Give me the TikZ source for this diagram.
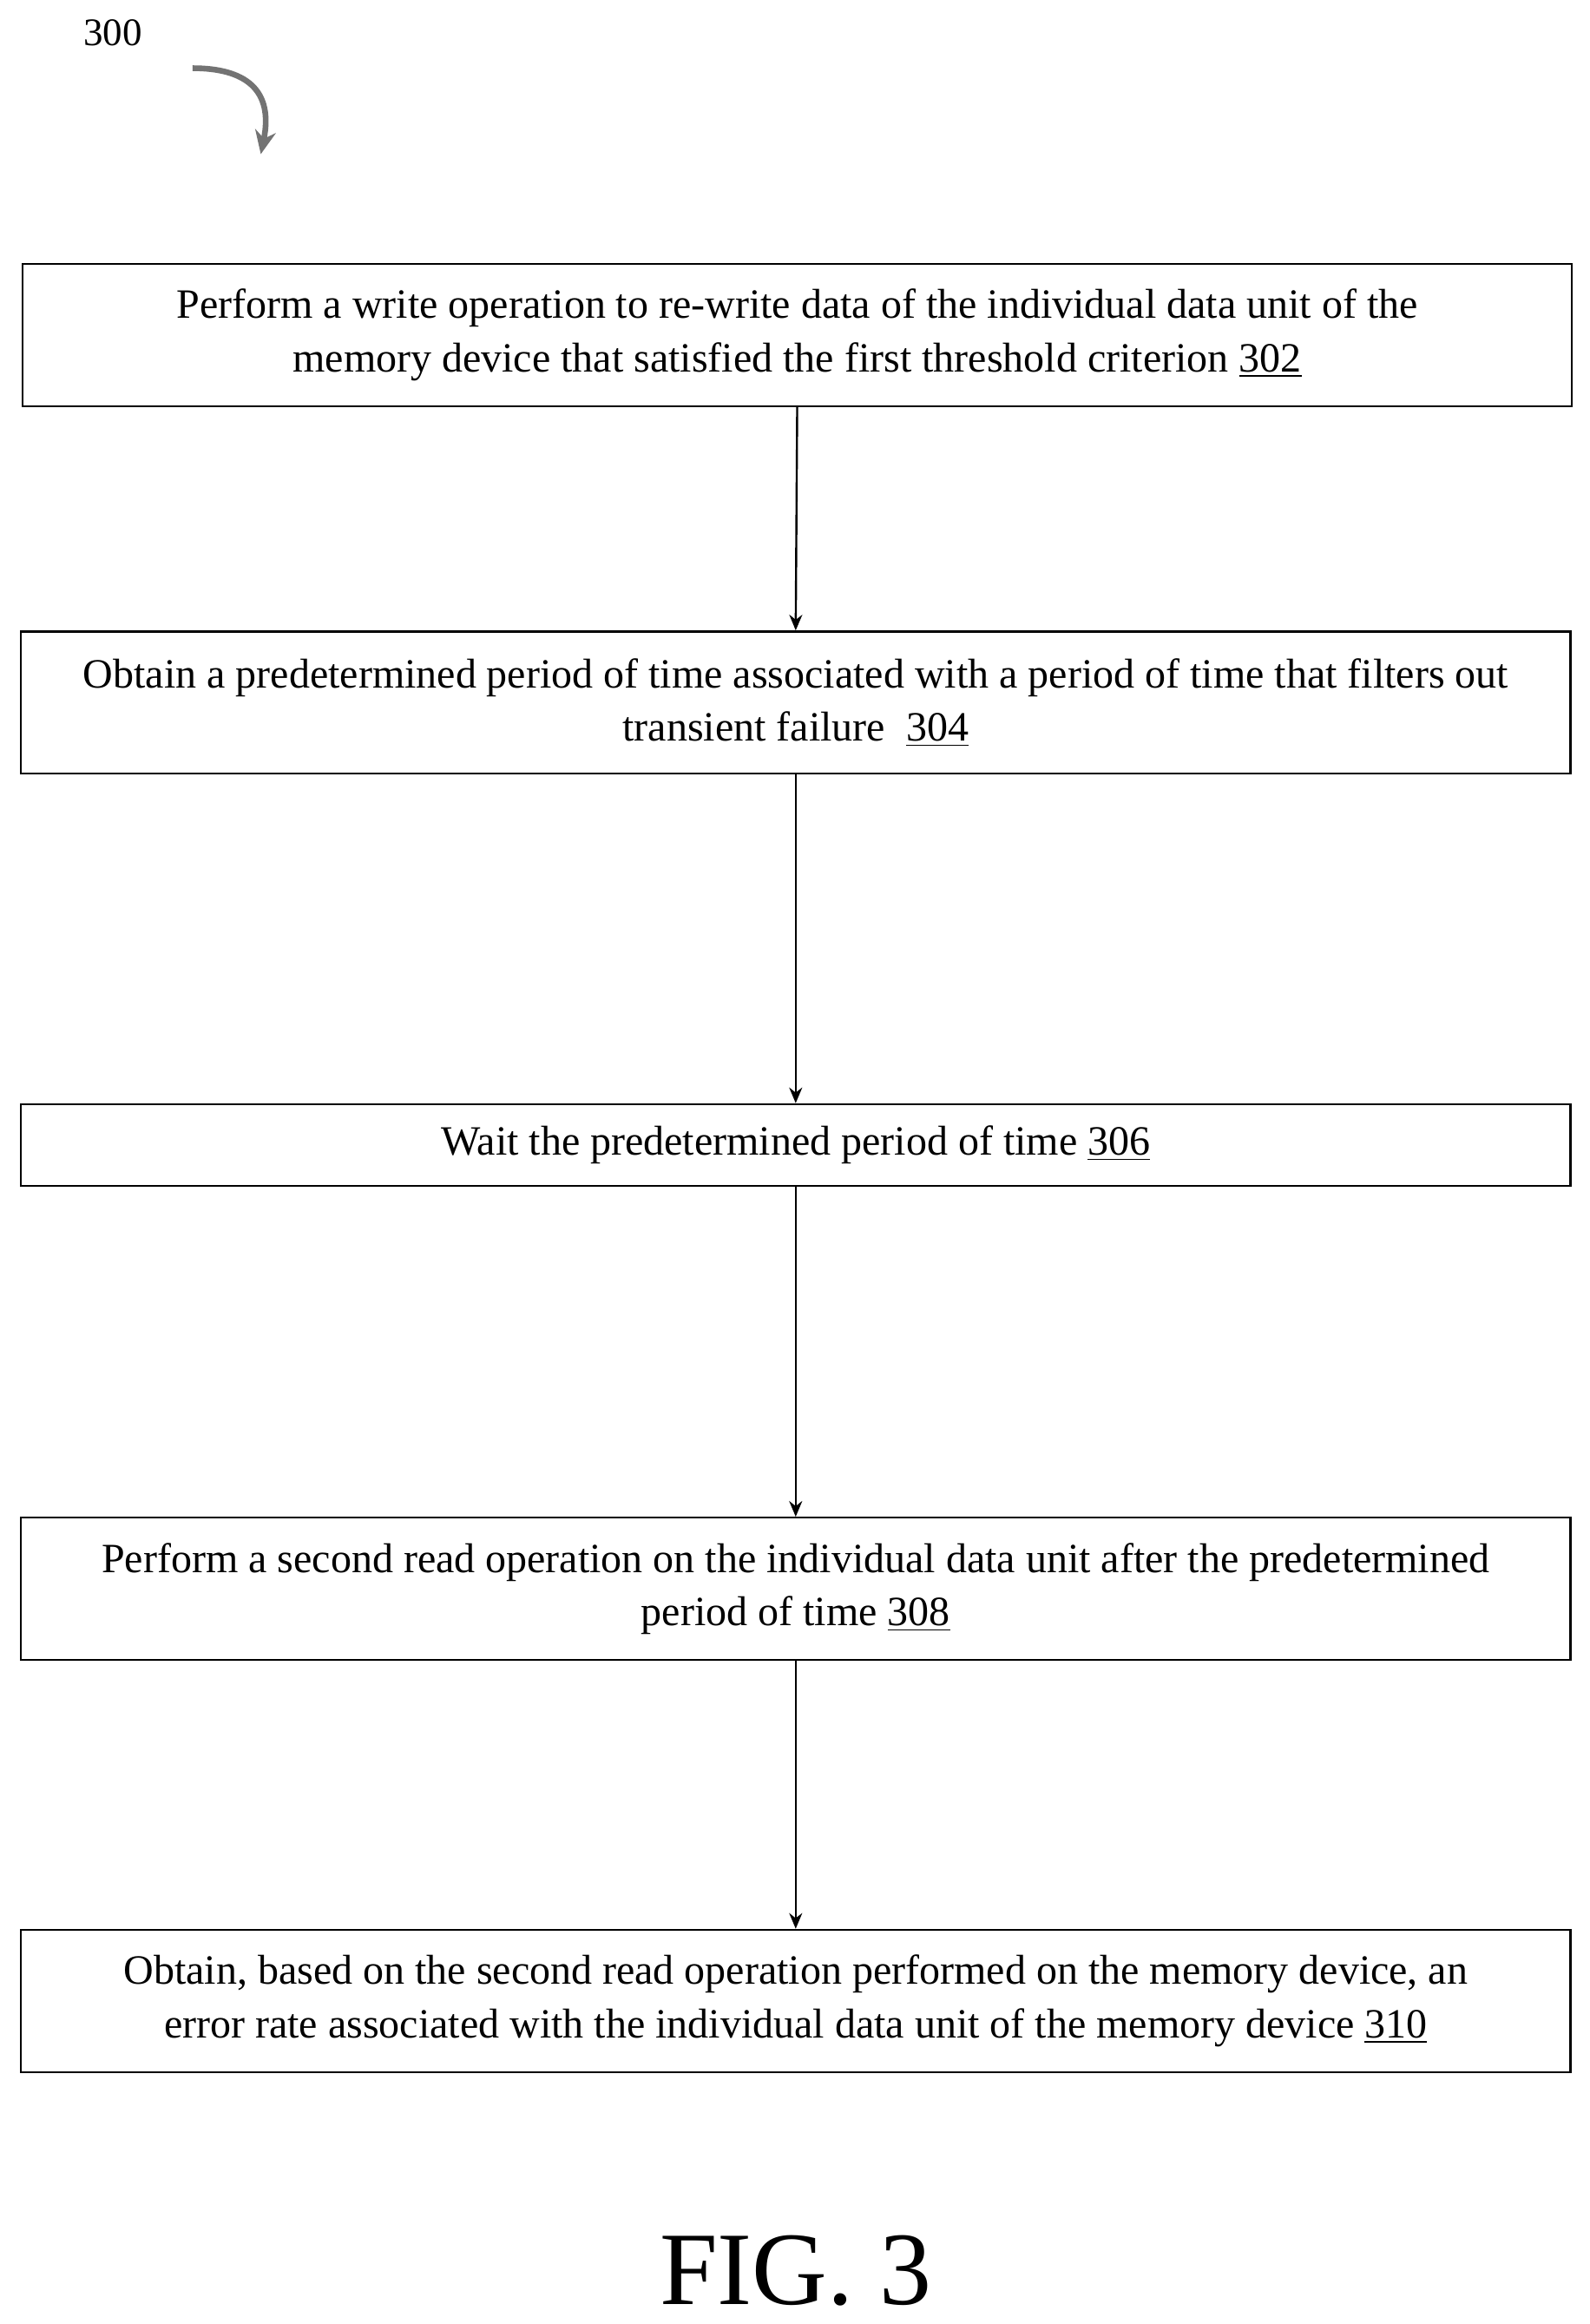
\documentclass[tikz,border=0pt]{standalone}
\usepackage{fontspec}
\setmainfont{Liberation Serif}
\usetikzlibrary{positioning,arrows.meta}

\begin{document}
\begin{tikzpicture}[x=0.02cm, y=-0.02cm,
    stepnode/.style={draw=black, thick, minimum width=20.92cm, align=center,
        font=\fontsize{16}{20.5}\selectfont, inner sep=0pt},
    flow/.style={->, >={Stealth[length=6pt,width=5pt]}, thick}
    ]
        \useasboundingbox (0,0) rectangle (1073,1568);
        %Nodes
        \node[font=\fontsize{15}{16}\selectfont]
            (lbl)   at (76,22)      {300};
        \coordinate (c0) at (130,46);
        \coordinate (c1) at (176,104);
        \node[stepnode, minimum height=1.92cm]
            (s302)  at (538,226)    {Perform a write operation to re-write data of the individual data unit of the\\ memory device that satisfied the first threshold criterion \underline{302}};
        \node[stepnode, minimum height=1.92cm]
            (s304)  at (537,474)    {Obtain a predetermined period of time associated with a period of time that filters out\\ transient failure \ \underline{304}};
        \node[stepnode, minimum height=1.1cm]
            (s306)  at (537,772.5)  {Wait the predetermined period of time \underline{306}};
        \node[stepnode, minimum height=1.92cm]
            (s308)  at (537,1072)   {Perform a second read operation on the individual data unit after the predetermined\\ period of time \underline{308}};
        \node[stepnode, minimum height=1.92cm]
            (s310)  at (537,1350)   {Obtain, based on the second read operation performed on the memory device, an\\ error rate associated with the individual data unit of the memory device \underline{310}};
        \node[font=\fontsize{40}{44}\selectfont]
            (fig)   at (537,1532)   {FIG. 3};

        %Lines
        \draw[->, >={Stealth[length=9pt,width=8pt]}, line width=2.2pt, draw=black!55]
            (c0) .. controls (165,46) and (185,60) .. (c1);
        \draw[flow] (s302.south) -- (s304.north);
        \draw[flow] (s304.south) -- (s306.north);
        \draw[flow] (s306.south) -- (s308.north);
        \draw[flow] (s308.south) -- (s310.north);
    \end{tikzpicture}
\end{document}
